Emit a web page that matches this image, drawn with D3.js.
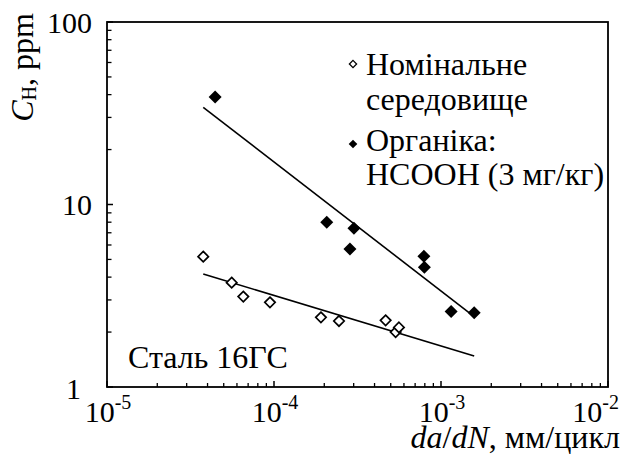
<!DOCTYPE html>
<html><head><meta charset="utf-8">
<script src="https://cdn.jsdelivr.net/npm/d3@7/dist/d3.min.js"></script>
</head><body style="margin:0">
<script>
// data
const nominalX = [3.77e-5, 5.58e-5, 6.55e-5, 9.46e-5, 1.91e-4, 2.45e-4, 4.66e-4, 5.35e-4, 5.6e-4];
const nominalY = [5.18, 3.73, 3.13, 2.91, 2.41, 2.30, 2.32, 2.00, 2.12];
const organicX = [4.44e-5, 2.07e-4, 3.01e-4, 2.85e-4, 7.9e-4, 7.95e-4, 1.15e-3, 1.58e-3];
const organicY = [38.8, 8.0, 7.4, 5.7, 5.2, 4.53, 2.59, 2.55];
const nominalFitX = [3.77e-5, 1.58e-3];
const nominalFitY = [4.16, 1.48];
const organicFitX = [3.77e-5, 1.58e-3];
const organicFitY = [34.1, 2.43];
const xTicks = [1e-5, 1e-4, 1e-3, 1e-2];
const xTickExp = ["-5", "-4", "-3", "-2"];
const yTicks = [1, 10, 100];
const yTickLabels = ["1", "10", "100"];
const legendLabels = [["Номінальне", "середовище"], ["Органіка:", "HCOOH (3 мг/кг)"]];

const W = 621, H = 457;
const L = 107, R = 608, T = 22, B = 387;
const svg = d3.select("body").append("svg").attr("width", W).attr("height", H);
const x = d3.scaleLog().domain([1e-5, 1e-2]).range([L, R]);
const y = d3.scaleLog().domain([1, 100]).range([B, T]);

function txt(sel) { return sel.style("font-family", '"Liberation Serif"'); }

// minor ticks
const xMinor = [], yMinor = [];
for (let e = -5; e < -2; e++) for (let k = 2; k <= 9; k++) xMinor.push(k * Math.pow(10, e));
for (let e = 0; e < 2; e++) for (let k = 2; k <= 9; k++) yMinor.push(k * Math.pow(10, e));

const g = svg.append("g");
g.selectAll(".xm").data(xMinor).join("line")
  .attr("x1", d => x(d)).attr("x2", d => x(d)).attr("y1", B).attr("y2", B - 4)
  .attr("stroke", "#000").attr("stroke-width", 1.3);
g.selectAll(".ym").data(yMinor).join("line")
  .attr("y1", d => y(d)).attr("y2", d => y(d)).attr("x1", L).attr("x2", L + 4.5)
  .attr("stroke", "#000").attr("stroke-width", 1.3);
g.selectAll(".yM").data(yTicks).join("line")
  .attr("y1", d => y(d)).attr("y2", d => y(d)).attr("x1", L).attr("x2", L + 6)
  .attr("stroke", "#000").attr("stroke-width", 1.5);
g.selectAll(".xM").data(xTicks).join("line")
  .attr("x1", d => x(d)).attr("x2", d => x(d)).attr("y1", B).attr("y2", B - 6)
  .attr("stroke", "#000").attr("stroke-width", 1.5);

// frame
svg.append("rect").attr("x", L).attr("y", T).attr("width", R - L).attr("height", B - T)
  .attr("fill", "none").attr("stroke", "#000").attr("stroke-width", 1.8);

// y tick labels
txt(svg.selectAll(".ytl").data(yTicks).join("text"))
  .attr("x", (d, i) => i === 0 ? 81 : 92)
  .attr("y", (d, i) => i === 0 ? 399 : y(d) + 10.5)
  .attr("text-anchor", "end").style("font-size", "30px")
  .text((d, i) => yTickLabels[i]);

// x tick labels
const xl = txt(svg.selectAll(".xtl").data(xTicks).join("text"))
  .attr("x", (d, i) => i === xTicks.length - 1 ? 619 : x(d) + 1)
  .attr("y", 422)
  .attr("text-anchor", (d, i) => i === xTicks.length - 1 ? "end" : "middle")
  .style("font-size", "30px");
xl.append("tspan").text("10");
xl.append("tspan").style("font-size", "20px").attr("dy", -13).text((d, i) => xTickExp[i]);

// fit lines
const line = d3.line().x(d => x(d[0])).y(d => y(d[1]));
svg.append("path").datum(organicFitX.map((d, i) => [d, organicFitY[i]]))
  .attr("d", line).attr("fill", "none").attr("stroke", "#000").attr("stroke-width", 1.6);
svg.append("path").datum(nominalFitX.map((d, i) => [d, nominalFitY[i]]))
  .attr("d", line).attr("fill", "none").attr("stroke", "#000").attr("stroke-width", 1.6);

// markers
const diamond = s => `M0,${-s}L${s},0L0,${s}L${-s},0Z`;
svg.selectAll(".op").data(nominalX.map((d, i) => [d, nominalY[i]])).join("path")
  .attr("transform", d => `translate(${x(d[0])},${y(d[1])})`)
  .attr("d", diamond(5.2)).attr("fill", "#fff").attr("stroke", "#000").attr("stroke-width", 1.7);
svg.selectAll(".fp").data(organicX.map((d, i) => [d, organicY[i]])).join("path")
  .attr("transform", d => `translate(${x(d[0])},${y(d[1])})`)
  .attr("d", diamond(6.5)).attr("fill", "#000");

// legend
svg.append("path").attr("transform", "translate(353,64)").attr("d", diamond(3.6))
  .attr("fill", "#fff").attr("stroke", "#000").attr("stroke-width", 1.3);
svg.append("path").attr("transform", "translate(353,144)").attr("d", diamond(4.3)).attr("fill", "#000");
const legY = [[75, 110], [151, 185]];
legendLabels.forEach((lines, i) => lines.forEach((t, j) => {
  txt(svg.append("text")).attr("x", 366).attr("y", legY[i][j]).style("font-size", "32px").text(t);
}));

// annotation
txt(svg.append("text")).attr("x", 128).attr("y", 368).style("font-size", "32px").text("Сталь 16ГС");

// axis titles
const xt = txt(svg.append("text")).attr("x", 620).attr("y", 448).attr("text-anchor", "end").style("font-size", "32px");
xt.append("tspan").attr("font-style", "italic").text("da");
xt.append("tspan").text("/");
xt.append("tspan").attr("font-style", "italic").text("dN");
xt.append("tspan").text(", мм/цикл");

const yt = txt(svg.append("text")).attr("transform", "translate(33,67.5) rotate(-90)")
  .attr("text-anchor", "middle").style("font-size", "32px");
yt.append("tspan").attr("font-style", "italic").text("C");
yt.append("tspan").style("font-size", "20px").attr("dy", 3).text("H");
yt.append("tspan").attr("dy", -3).text(", ppm");
</script>
</body></html>
